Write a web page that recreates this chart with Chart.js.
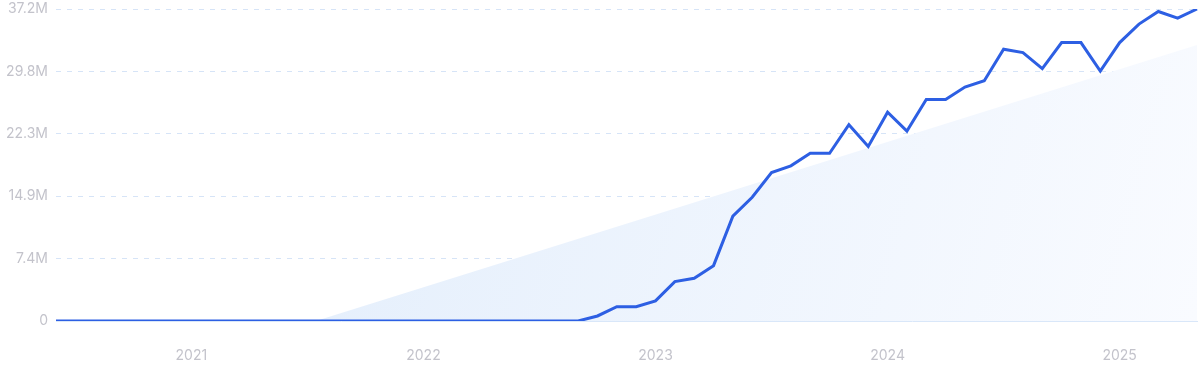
<!DOCTYPE html>
<html>
<head>
<meta charset="utf-8">
<script src="https://cdn.jsdelivr.net/npm/chart.js@4/dist/chart.umd.min.js"></script>
<style>
  html, body { margin: 0; padding: 0; background: #fff; }
  #wrap { width: 1200px; height: 371px; position: relative; }
</style>
</head>
<body>
<div id="wrap"><canvas id="trendChart"></canvas></div>
<script>
// months Jun 2020 .. May 2025
var months = [
  '2020-06','2020-07','2020-08','2020-09','2020-10','2020-11','2020-12',
  '2021-01','2021-02','2021-03','2021-04','2021-05','2021-06','2021-07','2021-08','2021-09','2021-10','2021-11','2021-12',
  '2022-01','2022-02','2022-03','2022-04','2022-05','2022-06','2022-07','2022-08','2022-09','2022-10','2022-11','2022-12',
  '2023-01','2023-02','2023-03','2023-04','2023-05','2023-06','2023-07','2023-08','2023-09','2023-10','2023-11','2023-12',
  '2024-01','2024-02','2024-03','2024-04','2024-05','2024-06','2024-07','2024-08','2024-09','2024-10','2024-11','2024-12',
  '2025-01','2025-02','2025-03','2025-04','2025-05'
];

// volume in millions
var volume = [
  0, 0, 0, 0, 0, 0, 0,
  0, 0, 0, 0, 0, 0, 0, 0, 0, 0, 0, 0,
  0, 0, 0, 0, 0, 0, 0, 0, 0, 0.6, 1.7, 1.7,
  2.4, 4.7, 5.1, 6.6, 12.5, 14.75, 17.7, 18.5, 20.0, 20.0, 23.4, 20.8,
  24.9, 22.65, 26.4, 26.4, 27.9, 28.65, 32.4, 32.0, 30.1, 33.2, 33.2, 29.8,
  33.2, 35.4, 36.9, 36.1, 37.2
];

// trend line end points (millions)
var trendStart = -9.7;
var trendEnd = 32.9;

var yTicks = [0, 7.44, 14.88, 22.32, 29.76, 37.2];

var trendData = months.map(function(m, i) {
  if (i === 0) return trendStart;
  if (i === months.length - 1) return trendEnd;
  return null;
});

var ctx = document.getElementById('trendChart').getContext('2d');

new Chart(ctx, {
  type: 'line',
  data: {
    labels: months,
    datasets: [
      {
        label: 'Volume',
        data: volume,
        borderColor: '#2d5fe3',
        borderWidth: 3,
        pointRadius: 0,
        tension: 0,
        fill: false,
        order: 0
      },
      {
        label: 'Trend',
        data: trendData,
        spanGaps: true,
        borderWidth: 0,
        pointRadius: 0,
        tension: 0,
        fill: 'origin',
        order: 1,
        backgroundColor: function(context) {
          var area = context.chart.chartArea;
          if (!area) return 'rgba(230,240,252,1)';
          var g = context.chart.ctx.createLinearGradient(area.left, area.top, area.right, area.bottom);
          g.addColorStop(0, 'rgba(222,235,251,1)');
          g.addColorStop(1, 'rgba(249,251,255,1)');
          return g;
        }
      }
    ]
  },
  options: {
    responsive: true,
    maintainAspectRatio: false,
    animation: false,
    layout: {
      padding: { top: 9, right: 3, left: 0, bottom: 0 }
    },
    scales: {
      x: {
        grid: { display: false },
        border: { display: true, color: '#d9e7f9', width: 1 },
        afterFit: function(scale) { scale.height = 50; },
        ticks: {
          autoSkip: false,
          maxRotation: 0,
          minRotation: 0,
          padding: 18,
          color: '#c3c3cb',
          font: { size: 14, family: 'Inter' },
          callback: function(value) {
            var m = months[value];
            return m.slice(5) === '01' ? m.slice(0, 4) : null;
          }
        }
      },
      y: {
        min: 0,
        max: 37.2,
        afterBuildTicks: function(scale) {
          scale.ticks = yTicks.map(function(v) { return { value: v }; });
        },
        afterFit: function(scale) {
          scale.width = 56;
          scale.paddingTop = 0;
          scale.paddingBottom = 0;
        },
        grid: {
          color: '#d6e4f7',
          drawTicks: false
        },
        border: { display: false, dash: [5, 6] },
        ticks: {
          padding: 8,
          color: '#c3c3cb',
          font: { size: 14, family: 'Inter' },
          callback: function(value) {
            return value === 0 ? '0' : value.toFixed(1) + 'M';
          }
        }
      }
    },
    plugins: {
      legend: { display: false },
      tooltip: { enabled: false }
    }
  }
});
</script>
</body>
</html>
